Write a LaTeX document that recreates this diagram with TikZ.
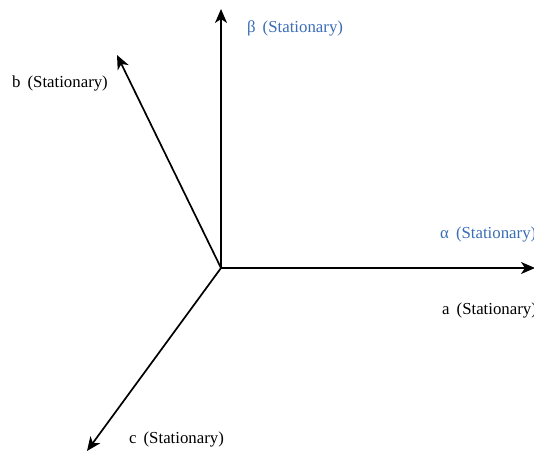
\documentclass[tikz,border=0pt]{standalone}
\usepackage{fontspec}
\setmainfont{Liberation Serif}
\usetikzlibrary{arrows.meta}
\definecolor{labblue}{HTML}{3A6DB5}
\begin{document}
\begin{tikzpicture}[x=1pt,y=-1pt,
  axis/.style={line width=1.7pt,-{Stealth[length=14pt,width=12pt,inset=4pt]}},
  lab/.style={font=\fontsize{16.8}{20}\selectfont,inner sep=0pt},
  bluelab/.style={lab,text=labblue}]
\useasboundingbox (0,0) rectangle (534,453);
\coordinate (O) at (221,268);
\coordinate (Ea) at (535,268);
\coordinate (Eb) at (117,55);
\coordinate (Ebeta) at (221,9);
\coordinate (Ec) at (87,451);
\draw[axis] (O) -- (Ea);
\draw[axis] (O) -- (Ebeta);
\draw[axis] (O) -- (Eb);
\draw[axis] (O) -- (Ec);
\node[bluelab,anchor=west] (lbeta) at (247,28) {β\ \,(Stationary)};
\node[lab,anchor=west] (lb) at (12,83) {b\ \,(Stationary)};
\node[bluelab,anchor=west] (lalpha) at (440,234) {α\ \,(Stationary)};
\node[lab,anchor=west] (la) at (442,310) {a\ \,(Stationary)};
\node[lab,anchor=west] (lc) at (129,439) {c\ \,(Stationary)};
\end{tikzpicture}
\end{document}
